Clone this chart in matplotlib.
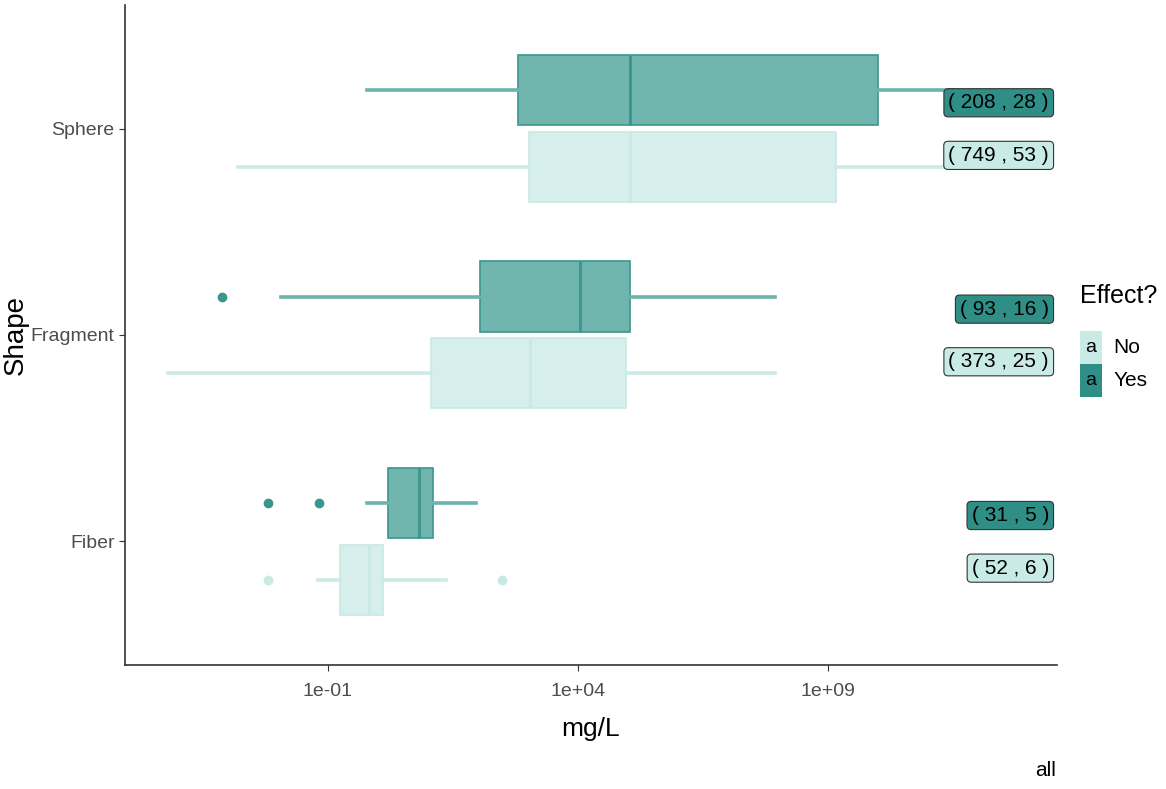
import matplotlib
matplotlib.use('Agg')
import matplotlib.pyplot as plt
from matplotlib.patches import Rectangle

plt.rcParams['font.family'] = ['Liberation Sans', 'DejaVu Sans']

shapes = ['Fiber', 'Fragment', 'Sphere']
groups = ['No', 'Yes']

# статистика ящиков, mg/L: нижний ус, Q1, медиана, Q3, верхний ус
no_whislo = [0.063, 6.3e-5, 1.6e-3]
no_q1 = [0.17, 11.5, 1.05e3]
no_med = [0.66, 1.1e3, 1.1e5]
no_q3 = [1.26, 9.1e4, 1.45e9]
no_whishi = [23, 8.7e7, 3e11]
no_fliers = [[0.0063, 300], [], []]

yes_whislo = [0.6, 0.0115, 0.6]
yes_q1 = [1.6, 110, 630]
yes_med = [6.6, 1.1e4, 1.1e5]
yes_q3 = [12.6, 1.1e5, 1.0e10]
yes_whishi = [91, 8.7e7, 3e11]
yes_fliers = [[0.0063, 0.066], [7.6e-4], []]

# подписи (число измерений, число исследований)
no_counts = [(52, 6), (373, 25), (749, 53)]
yes_counts = [(31, 5), (93, 16), (208, 28)]

no_fill, no_edge, no_whisk = '#d6efec', '#c8e9e4', '#cdebe6'
yes_fill, yes_edge, yes_whisk = '#70b5ae', '#3a968c', '#6cb3ab'
no_label, yes_label = '#c9ebe5', '#2f8f86'

fig = plt.figure(figsize=(11.66, 7.89), dpi=100)
ax = fig.add_axes([0.1072, 0.157, 0.7993, 0.837])


def make_stats(wlo, q1, med, q3, whi, fl):
    return [dict(whislo=a, q1=b, med=c, q3=d, whishi=e, fliers=f)
            for a, b, c, d, e, f in zip(wlo, q1, med, q3, whi, fl)]


ypos = list(range(1, len(shapes) + 1))
sets = [
    (make_stats(no_whislo, no_q1, no_med, no_q3, no_whishi, no_fliers), -0.186, no_fill, no_edge, no_whisk),
    (make_stats(yes_whislo, yes_q1, yes_med, yes_q3, yes_whishi, yes_fliers), 0.186, yes_fill, yes_edge, yes_whisk),
]
for stats, off, fill, edge, wcol in sets:
    ax.bxp(stats, positions=[y + off for y in ypos], widths=0.34, vert=False,
           patch_artist=True, showcaps=False,
           boxprops=dict(facecolor=fill, edgecolor=edge, linewidth=1.2),
           medianprops=dict(color=edge, linewidth=2),
           whiskerprops=dict(color=wcol, linewidth=2.6),
           flierprops=dict(marker='o', markerfacecolor=edge, markeredgecolor=edge, markersize=6))

# подписи справа
for y, (n1, n2), (m1, m2) in zip(ypos, no_counts, yes_counts):
    ax.text(10 ** 13.42, y + 0.125, f'( {m1} , {m2} )', ha='right', va='center', fontsize=15,
            color='black', zorder=5,
            bbox=dict(boxstyle='round,pad=0.22,rounding_size=0.2', facecolor=yes_label,
                      edgecolor='#333333', linewidth=0.8))
    ax.text(10 ** 13.42, y - 0.13, f'( {n1} , {n2} )', ha='right', va='center', fontsize=15,
            color='black', zorder=5,
            bbox=dict(boxstyle='round,pad=0.22,rounding_size=0.2', facecolor=no_label,
                      edgecolor='#333333', linewidth=0.8))

ax.set_xscale('log')
ax.set_xlim(10 ** -5.06, 10 ** 13.58)
ax.set_ylim(0.4, 3.6)
ax.set_xticks([1e-1, 1e4, 1e9])
ax.set_xticklabels(['1e-01', '1e+04', '1e+09'])
ax.minorticks_off()
ax.set_yticks(ypos)
ax.set_yticklabels(shapes)
ax.tick_params(labelsize=14, labelcolor='#4d4d4d', color='#333333', length=4)
ax.tick_params(axis='x', pad=9)
for s in ['top', 'right']:
    ax.spines[s].set_visible(False)
for s in ['left', 'bottom']:
    ax.spines[s].set_color('#333333')
    ax.spines[s].set_linewidth(1.2)

ax.set_xlabel('mg/L', fontsize=19, labelpad=12)
ax.set_ylabel('Shape', fontsize=20)
ax.yaxis.set_label_coords(-0.103, 0.5)

# легенда
fig.text(0.926, 0.625, 'Effect?', fontsize=18, ha='left', va='center')
for i, (name, col) in enumerate([('No', no_label), ('Yes', yes_label)]):
    yb = 0.539 - i * 0.042
    fig.patches.append(Rectangle((0.926, yb), 0.019, 0.042, transform=fig.transFigure,
                                 facecolor=col, edgecolor='none'))
    fig.text(0.9355, yb + 0.021, 'a', fontsize=14, ha='center', va='center')
    fig.text(0.955, yb + 0.021, name, fontsize=15, ha='left', va='center')

fig.text(0.906, 0.024, 'all', fontsize=15, ha='right', va='center')

fig.savefig('out.png', dpi=100)
